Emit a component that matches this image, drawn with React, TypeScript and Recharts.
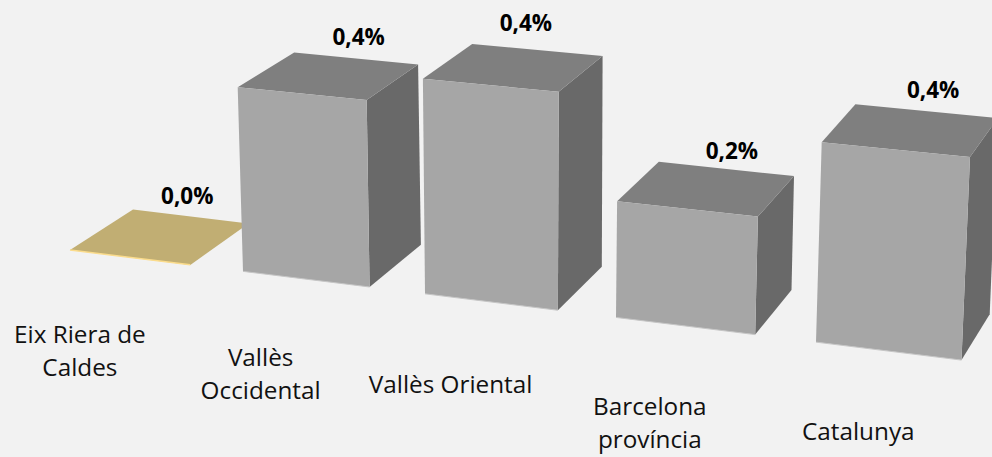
import React from 'react';
import { BarChart, Bar, XAxis, YAxis, LabelList } from 'recharts';

const categories = ['Eix Riera de Caldes', 'Vallès Occidental', 'Vallès Oriental', 'Barcelona província', 'Catalunya'];
const categoryLines = [['Eix Riera de', 'Caldes'], ['Vallès', 'Occidental'], ['Vallès Oriental'], ['Barcelona', 'província'], ['Catalunya']];
const values = [0, 0.38, 0.434, 0.229, 0.385];

const data = categories.map((name, i) => ({ name, value: values[i] }));

const WIDTH = 992;
const HEIGHT = 457;
const SLOT = WIDTH / categories.length;
const FONT = '"Open Sans", sans-serif';

// hand nudges of the labels, they were moved by hand in the original too
const labelNudge = [[-3, 0], [3, 0], [-11, -6], [6, 3], [7, 0]];
const tickNudge = [0, 0, 4, 1, 0];

// the 3d camera: t = position along the floor in slots, h = bar height in px, d = depth 0..1
const project = (t: number, h: number, d: number) => {
  const floorX = 70 + 168.5 * t + 4.5 * t * t;
  const grow = 1 + 0.00012 * (floorX - 500);
  const x = floorX + h * (floorX - 520) * 0.0001;
  const y = 250 + 0.1235 * (floorX - 70) - h * grow;
  const dx = 63 - 0.039 * (x - 70);
  const dy = -(40.5 + 0.006 * (x - 70)) + 0.036 * h;
  return [x + d * dx, y + d * dy];
};

const slotT = (x: number) => x / SLOT - 0.15;

const poly = (pts: number[][]) => pts.map((p) => `${p[0].toFixed(1)},${p[1].toFixed(1)}`).join(' ');

const Box3D = (props: any) => {
  const { x, width, height, index } = props;
  const t = slotT(x);
  const w = width / SLOT;
  const h = height || 0;
  const gold = index === 0;

  const ftl = project(t, h, 0);
  const ftr = project(t + w, h, 0);
  const fbl = project(t, 0, 0);
  const fbr = project(t + w, 0, 0);
  const btl = project(t, h, 1);
  const btr = project(t + w, h, 1);
  const bbr = project(t + w, 0, 1);

  if (gold) {
    return (
      <g>
        <polygon points={poly([ftl, btl, btr, ftr])} fill="#c1ae73" />
        <line x1={ftl[0]} y1={ftl[1]} x2={ftr[0]} y2={ftr[1]} stroke="#fbdc8c" strokeWidth={1.5} />
      </g>
    );
  }
  return (
    <g>
      <polygon points={poly([ftr, btr, bbr, fbr])} fill="#696969" />
      <polygon points={poly([ftl, btl, btr, ftr])} fill="#7f7f7f" />
      <polygon points={poly([ftl, ftr, fbr, fbl])} fill="#a6a6a6" />
      <line x1={fbl[0]} y1={fbl[1]} x2={fbr[0]} y2={fbr[1]} stroke="#c6c6c6" strokeWidth={1} />
    </g>
  );
};

const ValueLabel = (props: any) => {
  const { x, width, height, value, index } = props;
  const t = slotT(x) + width / SLOT / 2;
  const p = project(t, height || 0, 1);
  const nudge = labelNudge[index];
  return (
    <text
      x={p[0] + nudge[0]}
      y={p[1] - 13 + nudge[1]}
      textAnchor="middle"
      fontFamily={FONT}
      fontWeight={700}
      fontSize={22.5}
      fill="#000"
    >
      {Number(value).toFixed(1).replace('.', ',') + '%'}
    </text>
  );
};

const CategoryTick = (props: any) => {
  const { x, index } = props;
  const p = project(slotT(x), 0, -0.67);
  return (
    <text textAnchor="middle" fontFamily={FONT} fontSize={24.3} fill="#111">
      {categoryLines[index].map((line, i) => (
        <tspan key={line} x={p[0] - 9} y={p[1] + 58.7 + tickNudge[index] + i * 33}>
          {line}
        </tspan>
      ))}
    </text>
  );
};

export default function App() {
  return (
    <div style={{ position: 'absolute', left: 0, top: 0, width: WIDTH, height: HEIGHT, background: '#f2f2f2' }}>
      <BarChart width={WIDTH} height={HEIGHT} data={data} margin={{ top: 0, right: 0, bottom: 0, left: 0 }} barCategoryGap="15%">
        <XAxis dataKey="name" height={207} interval={0} axisLine={false} tickLine={false} tick={<CategoryTick />} />
        <YAxis hide domain={[0, 0.5]} />
        <Bar dataKey="value" shape={<Box3D />} isAnimationActive={false}>
          <LabelList dataKey="value" content={<ValueLabel />} />
        </Bar>
      </BarChart>
    </div>
  );
}
